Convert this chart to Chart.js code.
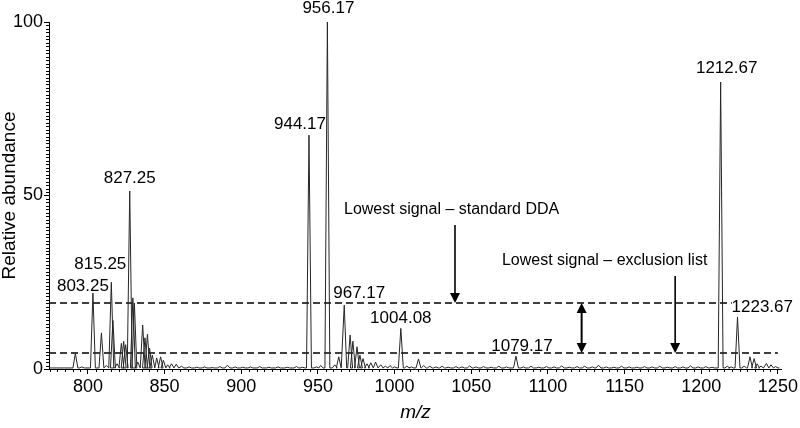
<!DOCTYPE html>
<html>
<head>
<meta charset="utf-8">
<script src="https://cdn.jsdelivr.net/npm/chart.js@4.4.1/dist/chart.umd.min.js"></script>
<style>
    html, body { margin: 0; padding: 0; background: #fff; }
    #wrap { width: 800px; height: 428px; }
</style>
</head>
<body>
<div id="wrap"><canvas id="spectrum" width="800" height="428"></canvas></div>
<script>
// peaks: m/z and relative abundance (%)
let peakMz = [
    791.8, 796, 803.25, 808.8, 812, 815.25, 816.3, 819, 821.8, 823.3, 824.6,
    827.25, 829.3, 830.3, 832.5, 835.7, 837.2, 838.8, 840.2, 842, 844.8, 847.4,
    849.2, 852, 854.5, 857.6, 861, 866, 871, 876, 881, 886, 891, 896, 901, 906,
    912, 918, 924, 930, 936, 940, 944.17, 949, 951.8, 956.17, 961, 963.6,
    967.17, 971, 972.8, 975.5, 977.4, 979.4, 982, 984.5, 987.6, 991, 994, 997,
    1000, 1004.08, 1008, 1011, 1015.6, 1019, 1023, 1027, 1031, 1035, 1040,
    1044, 1049, 1053, 1058, 1063, 1068, 1073, 1079.17, 1084, 1089, 1094, 1099,
    1104, 1109, 1114, 1119, 1124, 1129, 1133, 1138, 1143, 1148, 1153, 1158,
    1163, 1168, 1173, 1178, 1183, 1188, 1193, 1198, 1203, 1207, 1212.67, 1217,
    1219.5, 1223.67, 1228, 1231.8, 1234.5, 1236.5, 1239, 1242.5, 1245.5, 1248.5
];
let peakHeight = [
    4.5, 0.6, 21.9, 10.4, 1, 25, 14, 1.5, 7.4, 8, 7,
    51.3, 20.5, 19, 2, 12.7, 9, 10, 6, 4, 3.2, 3.5,
    2.5, 1.2, 1.5, 1.4, 0.8, 0.6, 0.5, 0.6, 0.4, 0.7, 1.1, 0.6, 0.5, 0.6,
    0.7, 0.5, 0.6, 0.5, 0.7, 0.5, 67.4, 0.6, 1, 100, 1.2, 3.5,
    18.4, 9.8, 8, 6.4, 4, 3, 1.5, 1.8, 2, 1.2, 0.8, 1,
    0.6, 11.7, 0.8, 0.6, 2.9, 1, 0.8, 0.6, 0.8, 0.5, 0.7,
    0.6, 0.9, 0.6, 0.7, 0.5, 0.8, 0.6, 3.7, 0.6, 0.8, 0.5, 0.7,
    0.6, 0.9, 0.5, 0.7, 0.8, 0.6, 1.1, 0.6, 0.5, 0.8, 0.6, 0.5,
    0.7, 0.6, 0.8, 0.5, 0.7, 0.6, 0.9, 0.6, 0.7, 0.5, 82.7, 0.8,
    0.6, 15, 0.8, 3.5, 3, 1.5, 0.8, 1.6, 1.2, 0.7
];
let baseLevel = 0.3;
let peakHalfWidth = 1.6;

// labelled peaks
let labelMz = [803.25, 815.25, 827.25, 944.17, 956.17, 967.17, 1004.08, 1079.17, 1212.67, 1223.67];
let labelText = ["803.25", "815.25", "827.25", "944.17", "956.17", "967.17", "1004.08", "1079.17", "1212.67", "1223.67"];

// intensity thresholds (dashed lines)
let thresholdStandard = 19.0;
let thresholdExclusion = 4.6;

let noteText = ["Lowest signal \u2013 standard DDA", "Lowest signal \u2013 exclusion list"];
let noteMz = [967, 1070];
let noteLevel = [45.8, 31.1];

let arrowMz = [1039.4, 1183];
let arrowFrom = [41.5, 26.8];
let arrowTo = [thresholdStandard, thresholdExclusion];
let doubleArrowMz = 1122;

// axes
let xMin = 774.6;
let xMax = 1252.6;
let xMajorStep = 50;
let xMinorStep = 5;
let yMajorStep = 50;
let yMinorStep = 1;

let fontFamily = 'Arial, "Liberation Sans", Helvetica, sans-serif';

// build the profile line: each peak as a narrow triangle on the baseline
let spectrum = [{ x: 775, y: baseLevel }];
peakMz.forEach((mz, i) => {
    spectrum.push({ x: mz - peakHalfWidth, y: baseLevel });
    spectrum.push({ x: mz, y: peakHeight[i] });
    spectrum.push({ x: mz + peakHalfWidth, y: baseLevel });
});
spectrum.push({ x: 1251, y: baseLevel });

let upperLine = [{ x: xMin, y: thresholdStandard }, { x: 1220, y: thresholdStandard }];
let lowerLine = [{ x: xMin, y: thresholdExclusion }, { x: 1250, y: thresholdExclusion }];

// pixel nudges for the peak labels (dx, gap above the peak top)
let labelDx = [-10, -11, 0, -9, 1, 15, 0, 6, 6, -6];
let labelGap = [2, 13, 8, 6, 9, 7, 5, 5, 9, 5];

function drawArrowHead(ctx, px, py, dir) {
    // dir = 1 pointing down, -1 pointing up
    ctx.beginPath();
    ctx.moveTo(px, py);
    ctx.lineTo(px - 5, py - dir * 10);
    ctx.lineTo(px + 5, py - dir * 10);
    ctx.closePath();
    ctx.fill();
}

const overlay = {
    id: "overlay",
    afterDatasetsDraw(chart) {
        let ctx = chart.ctx;
        let x = chart.scales.x;
        let y = chart.scales.y;
        ctx.save();
        ctx.strokeStyle = "#000";
        ctx.fillStyle = "#000";

        // minor ticks
        ctx.lineWidth = 1;
        ctx.beginPath();
        for (let v = Math.ceil(xMin / xMinorStep) * xMinorStep; v <= xMax; v += xMinorStep) {
            if (v % xMajorStep === 0) continue;
            let px = Math.round(x.getPixelForValue(v)) + 0.5;
            ctx.moveTo(px, y.bottom);
            ctx.lineTo(px, y.bottom + 3);
        }
        for (let v = 0; v <= 100; v += yMinorStep) {
            if (v % yMajorStep === 0) continue;
            let py = Math.round(y.getPixelForValue(v)) + 0.5;
            ctx.moveTo(x.left, py);
            ctx.lineTo(x.left - 3, py);
        }
        ctx.stroke();

        // peak labels
        ctx.font = "17px " + fontFamily;
        ctx.textBaseline = "alphabetic";
        labelMz.forEach((mz, i) => {
            let h = peakHeight[peakMz.indexOf(mz)];
            let px = x.getPixelForValue(mz) + labelDx[i];
            let py = y.getPixelForValue(h) - labelGap[i];
            ctx.textAlign = mz === 1223.67 ? "left" : "center";
            ctx.fillText(labelText[i], px, py);
        });

        // notes
        ctx.font = "16px " + fontFamily;
        ctx.textAlign = "left";
        ctx.textBaseline = "middle";
        noteText.forEach((t, i) => {
            ctx.fillText(t, x.getPixelForValue(noteMz[i]), y.getPixelForValue(noteLevel[i]));
        });

        // single arrows down to the thresholds
        ctx.lineWidth = 1.6;
        arrowMz.forEach((mz, i) => {
            let px = x.getPixelForValue(mz);
            let top = y.getPixelForValue(arrowFrom[i]);
            let tip = y.getPixelForValue(arrowTo[i]);
            ctx.beginPath();
            ctx.moveTo(px, top);
            ctx.lineTo(px, tip - 8);
            ctx.stroke();
            drawArrowHead(ctx, px, tip, 1);
        });

        // double arrow between the two thresholds
        let dx = x.getPixelForValue(doubleArrowMz);
        let dTop = y.getPixelForValue(thresholdStandard);
        let dBot = y.getPixelForValue(thresholdExclusion);
        ctx.lineWidth = 2;
        ctx.beginPath();
        ctx.moveTo(dx, dTop + 8);
        ctx.lineTo(dx, dBot - 8);
        ctx.stroke();
        drawArrowHead(ctx, dx, dTop, -1);
        drawArrowHead(ctx, dx, dBot, 1);

        ctx.restore();
    },
};

let ctx = document.querySelector("#spectrum").getContext("2d");
let myChart = new Chart(ctx, {
    type: "scatter",
    data: {
        datasets: [
            {
                data: spectrum,
                showLine: true,
                borderColor: "#262626",
                borderWidth: 1,
                pointRadius: 0,
                tension: 0,
                clip: false,
            },
            {
                data: upperLine,
                showLine: true,
                borderColor: "#000",
                borderWidth: 1.5,
                borderDash: [7, 4],
                pointRadius: 0,
            },
            {
                data: lowerLine,
                showLine: true,
                borderColor: "#000",
                borderWidth: 1.5,
                borderDash: [7, 4],
                pointRadius: 0,
            },
        ],
    },
    options: {
        responsive: false,
        animation: false,
        events: [],
        layout: {
            padding: { left: 0, right: 18, top: 22, bottom: 0 },
        },
        plugins: {
            legend: { display: false },
            tooltip: { enabled: false },
        },
        scales: {
            x: {
                type: "linear",
                min: xMin,
                max: xMax,
                border: { display: true, color: "#000", width: 1 },
                grid: { drawOnChartArea: false, drawTicks: true, tickLength: 5, color: "#000" },
                ticks: {
                    stepSize: xMajorStep,
                    includeBounds: false,
                    autoSkip: false,
                    maxRotation: 0,
                    color: "#000",
                    padding: 2,
                    font: { size: 18, family: fontFamily },
                    callback: (v) => String(v),
                },
                title: {
                    display: true,
                    text: "m/z",
                    color: "#000",
                    font: { size: 19, style: "italic", family: fontFamily },
                    padding: { top: 0, bottom: 4 },
                },
                afterFit: (s) => {
                    s.height = 59;
                },
            },
            y: {
                min: 0,
                max: 100,
                border: { display: true, color: "#000", width: 1 },
                grid: { drawOnChartArea: false, drawTicks: true, tickLength: 5, color: "#000" },
                ticks: {
                    stepSize: yMajorStep,
                    autoSkip: false,
                    color: "#000",
                    padding: 1,
                    font: { size: 18, family: fontFamily },
                    callback: (v) => String(v),
                },
                title: {
                    display: true,
                    text: "Relative abundance",
                    color: "#000",
                    font: { size: 19, family: fontFamily, lineHeight: 1 },
                    padding: { top: 0, bottom: 0 },
                },
                afterFit: (s) => {
                    s.width = 49;
                },
            },
        },
    },
    plugins: [overlay],
});
</script>
</body>
</html>
